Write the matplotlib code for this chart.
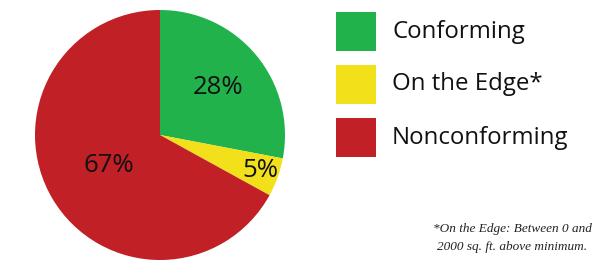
import numpy as np
import matplotlib
matplotlib.use("Agg")
import matplotlib.pyplot as plt
from matplotlib.patches import Rectangle

# data
labels = ["Conforming", "On the Edge*", "Nonconforming"]
shares = [28, 5, 67]
colors = ["#22b24c", "#f2e01a", "#c02026"]
footnote = "*On the Edge: Between 0 and\n2000 sq. ft. above minimum."

W, H = 602, 261
fig = plt.figure(figsize=(W / 100, H / 100), dpi=100)
ax = fig.add_axes([0, 0, 1, 1])

cx, cy, R = 160, H - 135, 125
wedges, _ = ax.pie(shares, colors=colors, startangle=90, counterclock=False,
                   center=(cx, cy), radius=R, frame=True,
                   wedgeprops=dict(linewidth=0))
ax.set_xlim(0, W)
ax.set_ylim(0, H)
ax.set_aspect("equal")
ax.axis("off")

# percent labels at different radial distances
dist = [0.6, 0.85, 0.48]
for w, s, d in zip(wedges, shares, dist):
    ang = np.deg2rad((w.theta1 + w.theta2) / 2)
    ax.text(cx + d * R * np.cos(ang), cy + d * R * np.sin(ang), f"{s}%",
            ha="center", va="center", fontsize=18.5, family="Open Sans", color="#111111")

# legend
for i, (lab, c) in enumerate(zip(labels, colors)):
    top = 12 + i * 53
    ax.add_patch(Rectangle((336, H - top - 39), 40, 39, color=c, lw=0))
    ax.text(392, H - top - 19.5, lab, ha="left", va="center",
            fontsize=17.3, family="Open Sans", color="#111111")

ax.text(512, H - 238, footnote, ha="center", va="center", fontsize=9.5,
        family="Liberation Serif", style="italic", color="#222222", linespacing=1.75)

fig.savefig("out.png", dpi=100)
